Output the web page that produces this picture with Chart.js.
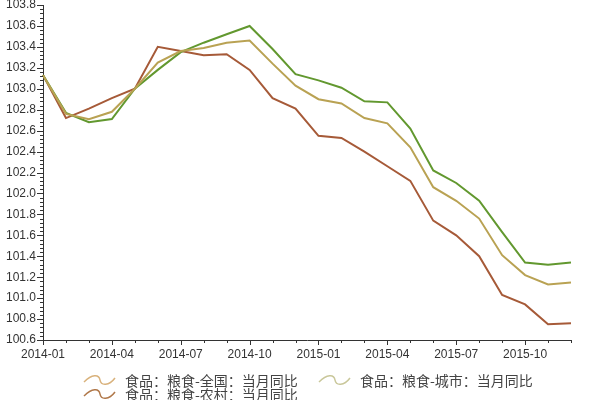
<!DOCTYPE html>
<html>
<head>
<meta charset="utf-8">
<script src="https://cdn.jsdelivr.net/npm/chart.js@4"></script>
<style>
  html, body { margin: 0; padding: 0; background: #fff; }
  #wrap { position: relative; width: 600px; height: 400px; }
  #legend { position: absolute; left: 83px; top: 373px; width: 500px;
    font-family: "Noto Sans CJK SC", sans-serif; font-size: 14px; color: #444; line-height: 14px; }
  .item { position: absolute; white-space: nowrap; display: flex; align-items: center; }
  .item svg { margin-right: 9px; }
</style>
</head>
<body>
<div id="wrap">
  <canvas id="chart"></canvas>
  <div id="legend"></div>
</div>
<script>
const months = ['2014-01','2014-02','2014-03','2014-04','2014-05','2014-06','2014-07','2014-08','2014-09','2014-10','2014-11','2014-12',
                '2015-01','2015-02','2015-03','2015-04','2015-05','2015-06','2015-07','2015-08','2015-09','2015-10','2015-11','2015-12'];
const seriesNames = ['食品：粮食-全国：当月同比', '食品：粮食-城市：当月同比', '食品：粮食-农村：当月同比'];
const national = [103.13, 102.76, 102.71, 102.78, 103.00, 103.25, 103.36, 103.39, 103.44, 103.46, 103.24, 103.03,
                  102.90, 102.86, 102.72, 102.67, 102.44, 102.06, 101.93, 101.76, 101.41, 101.22, 101.13, 101.15];
const urban    = [103.13, 102.77, 102.68, 102.71, 103.00, 103.18, 103.35, 103.44, 103.52, 103.60, 103.38, 103.14,
                  103.08, 103.01, 102.88, 102.87, 102.62, 102.22, 102.10, 101.93, 101.63, 101.34, 101.32, 101.34];
const rural    = [103.13, 102.72, 102.81, 102.91, 103.00, 103.40, 103.36, 103.32, 103.33, 103.18, 102.91, 102.81,
                  102.55, 102.53, 102.40, 102.26, 102.12, 101.74, 101.60, 101.40, 101.03, 100.94, 100.75, 100.76];
const yMin = 100.6, yMax = 103.8, yStep = 0.2;

const colors = ['#b9a253', '#62982f', '#a65a38'];
const legendColors = ['#d9b27c', '#c9c79a', '#b0784a'];

// minor ticks on both axes
const minorTicks = {
  id: 'minorTicks',
  afterDraw(chart) {
    const ctx = chart.ctx;
    const x = chart.scales.x, y = chart.scales.y;
    ctx.save();
    ctx.strokeStyle = '#333';
    ctx.lineWidth = 1;
    ctx.beginPath();
    const steps = Math.round((yMax - yMin) / 0.04);
    for (let i = 0; i <= steps; i++) {
      const py = Math.round(y.getPixelForValue(yMin + i * 0.04)) + 0.5;
      const len = i % 5 === 0 ? 6 : 3;
      ctx.moveTo(y.right - len, py);
      ctx.lineTo(y.right, py);
    }
    months.forEach((m, i) => {
      const px = Math.round(x.getPixelForValue(i)) + 0.5;
      const len = i % 3 === 0 ? 5 : 3;
      ctx.moveTo(px, x.top);
      ctx.lineTo(px, x.top + len);
    });
    ctx.stroke();
    ctx.restore();
  }
};

new Chart(document.getElementById('chart'), {
  type: 'line',
  data: {
    labels: months,
    datasets: [national, urban, rural].map((d, i) => ({
      label: seriesNames[i],
      data: d,
      borderColor: colors[i],
      borderWidth: 2,
      pointRadius: 0,
      tension: 0,
      fill: false
    }))
  },
  options: {
    responsive: true,
    maintainAspectRatio: false,
    animation: false,
    layout: { padding: { top: 5, right: 29, bottom: 38, left: 0 } },
    plugins: { legend: { display: false }, tooltip: { enabled: false } },
    scales: {
      x: {
        offset: false,
        grid: { display: false, drawTicks: false },
        border: { display: true, color: '#333' },
        ticks: {
          autoSkip: false, maxRotation: 0, padding: 7,
          color: '#333', font: { family: 'Liberation Sans', size: 12 },
          callback: (v, i) => (i % 3 === 0 ? months[i] : '')
        },
        afterFit: s => { s.height = 22; s.paddingLeft = 0; s.paddingRight = 0; }
      },
      y: {
        min: yMin, max: yMax,
        grid: { display: false, drawTicks: false },
        border: { display: true, color: '#333' },
        ticks: {
          stepSize: yStep, padding: 7,
          color: '#333', font: { family: 'Liberation Sans', size: 12 },
          callback: v => v.toFixed(1)
        },
        afterFit: s => { s.width = 43; s.paddingTop = 0; s.paddingBottom = 0; }
      }
    }
  },
  plugins: [minorTicks]
});

// legend with wavy icons
const legend = document.getElementById('legend');
const pos = [[0, 0], [235, 0], [0, 14]];
seriesNames.forEach((name, i) => {
  const el = document.createElement('div');
  el.className = 'item';
  el.style.left = pos[i][0] + 'px';
  el.style.top = pos[i][1] + 'px';
  el.innerHTML = '<svg width="33" height="12"><path d="M1 8 C 9 0, 16 0, 17 6 S 26 12, 32 4" fill="none" stroke="' +
    legendColors[i] + '" stroke-width="1.5"/></svg><span>' + name + '</span>';
  legend.appendChild(el);
});
</script>
</body>
</html>
